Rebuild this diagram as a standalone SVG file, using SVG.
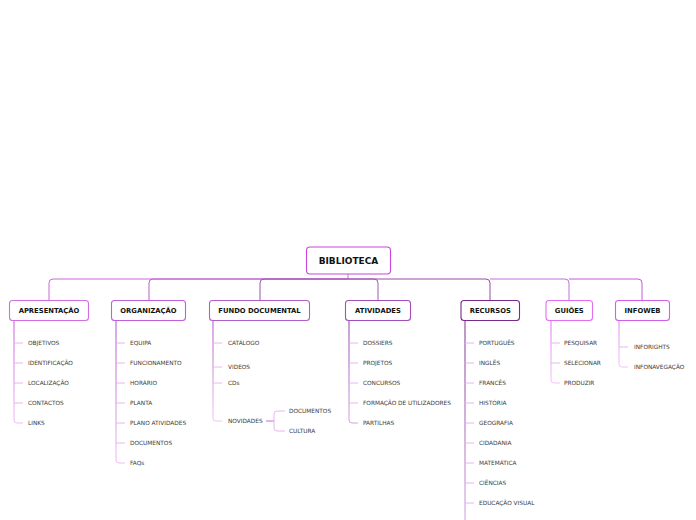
<svg xmlns="http://www.w3.org/2000/svg" width="696" height="520" viewBox="0 0 696 520">
<style>
.box{fill:#fff;stroke-width:1.1}
.lbl{font-family:"DejaVu Sans",sans-serif;font-weight:bold;font-size:6.8px;fill:#111;text-anchor:middle}
.root{font-size:9px}
.it{font-family:"DejaVu Sans",sans-serif;font-size:5.8px;fill:#3a3a3a}
.c{fill:none;stroke-width:1}
.t{fill:none;stroke-width:1;stroke:#e8b4f0}
</style>
<defs>
  <linearGradient id="gA" gradientUnits="userSpaceOnUse" x1="0" y1="320" x2="0" y2="423"><stop offset="0" stop-color="#c858d8"/><stop offset="1" stop-color="#eebcf4"/></linearGradient>
  <linearGradient id="gO" gradientUnits="userSpaceOnUse" x1="0" y1="320" x2="0" y2="463"><stop offset="0" stop-color="#b050c4"/><stop offset="1" stop-color="#eebcf4"/></linearGradient>
  <linearGradient id="gF" gradientUnits="userSpaceOnUse" x1="0" y1="320" x2="0" y2="421"><stop offset="0" stop-color="#b050c0"/><stop offset="1" stop-color="#f0c4f4"/></linearGradient>
  <linearGradient id="gT" gradientUnits="userSpaceOnUse" x1="0" y1="320" x2="0" y2="423"><stop offset="0" stop-color="#9040a4"/><stop offset="1" stop-color="#d8a0e4"/></linearGradient>
  <linearGradient id="gR" gradientUnits="userSpaceOnUse" x1="0" y1="320" x2="0" y2="520"><stop offset="0" stop-color="#7a2a8e"/><stop offset="1" stop-color="#d0a0dc"/></linearGradient>
  <linearGradient id="gG" gradientUnits="userSpaceOnUse" x1="0" y1="320" x2="0" y2="383"><stop offset="0" stop-color="#e070f0"/><stop offset="1" stop-color="#f2c4f8"/></linearGradient>
  <linearGradient id="gI" gradientUnits="userSpaceOnUse" x1="0" y1="320" x2="0" y2="367"><stop offset="0" stop-color="#e080f0"/><stop offset="1" stop-color="#f2c4f8"/></linearGradient>
</defs>
<rect width="696" height="520" fill="#fff"/>
<g id="connectors">
  <path class="c" stroke="#cc66dc" d="M348,274V279H53Q49,279 49,283V300"/>
  <path class="c" stroke="#b860c8" d="M348,279H153Q149,279 149,283V300"/>
  <path class="c" stroke="#a050b0" d="M348,279H264Q260,279 260,283V300"/>
  <path class="c" stroke="#a858b8" d="M348,279H374Q378,279 378,283V300"/>
  <path class="c" stroke="#9a4aaa" d="M348,279H486Q490,279 490,283V300"/>
  <path class="c" stroke="#c070d8" d="M490,279H565Q569,279 569,283V300"/>
  <path class="c" stroke="#c858d8" d="M569,279H638Q642,279 642,283V300"/>
  <!-- Apresentação -->
  <path class="c" stroke="url(#gA)" d="M14,320V420Q14,423 17,423H23"/>
  <path class="t" d="M14,343H23M14,363H23M14,383H23M14,403H23"/>
  <!-- Organização -->
  <path class="c" stroke="url(#gO)" d="M116,320V460Q116,463 119,463H125"/>
  <path class="t" d="M116,343H125M116,363H125M116,383H125M116,403H125M116,423H125M116,443H125"/>
  <!-- Fundo documental -->
  <path class="c" stroke="url(#gF)" d="M213,320V418Q213,421 216,421H222"/>
  <path class="t" d="M213,343H222M213,367H222M213,383H222"/>
  <path class="c" stroke="#c868d8" d="M266,421H274"/>
  <path class="t" stroke="#dc90ec" d="M285,411H277Q274,411 274,414V428Q274,431 277,431H285"/>
  <!-- Atividades -->
  <path class="c" stroke="url(#gT)" d="M349,320V420Q349,423 352,423H358"/>
  <path class="t" d="M349,343H358M349,363H358M349,383H358M349,403H358"/>
  <!-- Recursos -->
  <path class="c" stroke="url(#gR)" d="M465,320V520"/>
  <path class="t" d="M465,343H474M465,363H474M465,383H474M465,403H474M465,423H474M465,443H474M465,463H474M465,483H474M465,503H474"/>
  <!-- Guiões -->
  <path class="c" stroke="url(#gG)" d="M551,320V380Q551,383 554,383H560"/>
  <path class="t" d="M551,343H560M551,363H560"/>
  <!-- Infoweb -->
  <path class="c" stroke="url(#gI)" d="M619,320V364Q619,367 622,367H628"/>
  <path class="t" d="M619,347H628"/>
</g>
<g id="biblioteca">
  <rect class="box" x="306.5" y="247" width="84" height="27" rx="3.5" stroke="#cc44dd" stroke-width="1.3"/>
  <text class="lbl root" x="348.5" y="264.3">BIBLIOTECA</text>
</g>
<g id="apresentacao">
  <rect class="box" x="9.5" y="300.5" width="79" height="20" rx="3" stroke="#d070e0"/>
  <text class="lbl" x="49" y="313">APRESENTAÇÃO</text>
  <text class="it" x="28" y="345">OBJETIVOS</text>
  <text class="it" x="28" y="365">IDENTIFICAÇÃO</text>
  <text class="it" x="28" y="385">LOCALIZAÇÃO</text>
  <text class="it" x="28" y="405">CONTACTOS</text>
  <text class="it" x="28" y="425">LINKS</text>
</g>
<g id="organizacao">
  <rect class="box" x="111.5" y="300.5" width="74" height="20" rx="3" stroke="#c060d8"/>
  <text class="lbl" x="148.5" y="313">ORGANIZAÇÃO</text>
  <text class="it" x="130" y="345">EQUIPA</text>
  <text class="it" x="130" y="365">FUNCIONAMENTO</text>
  <text class="it" x="130" y="385">HORÁRIO</text>
  <text class="it" x="130" y="405">PLANTA</text>
  <text class="it" x="130" y="425">PLANO ATIVIDADES</text>
  <text class="it" x="130" y="445">DOCUMENTOS</text>
  <text class="it" x="130" y="465">FAQs</text>
</g>
<g id="fundo-documental">
  <rect class="box" x="209.5" y="300.5" width="100" height="20" rx="3" stroke="#b060c8"/>
  <text class="lbl" x="259.5" y="313">FUNDO DOCUMENTAL</text>
  <text class="it" x="228" y="345">CATÁLOGO</text>
  <text class="it" x="228" y="369">VIDEOS</text>
  <text class="it" x="228" y="385">CDs</text>
  <text class="it" x="228" y="423">NOVIDADES</text>
  <text class="it" x="289" y="413">DOCUMENTOS</text>
  <text class="it" x="289" y="433">CULTURA</text>
</g>
<g id="atividades">
  <rect class="box" x="345.5" y="300.5" width="65" height="20" rx="3" stroke="#a050b8"/>
  <text class="lbl" x="378" y="313">ATIVIDADES</text>
  <text class="it" x="363" y="345">DOSSIERS</text>
  <text class="it" x="363" y="365">PROJETOS</text>
  <text class="it" x="363" y="385">CONCURSOS</text>
  <text class="it" x="363" y="405">FORMAÇÃO DE UTILIZADORES</text>
  <text class="it" x="363" y="425">PARTILHAS</text>
</g>
<g id="recursos">
  <rect class="box" x="461" y="300.5" width="58.5" height="20" rx="3" stroke="#7a2a8a"/>
  <text class="lbl" x="490.3" y="313">RECURSOS</text>
  <text class="it" x="479" y="345">PORTUGUÊS</text>
  <text class="it" x="479" y="365">INGLÊS</text>
  <text class="it" x="479" y="385">FRANCÊS</text>
  <text class="it" x="479" y="405">HISTÓRIA</text>
  <text class="it" x="479" y="425">GEOGRAFIA</text>
  <text class="it" x="479" y="445">CIDADANIA</text>
  <text class="it" x="479" y="465">MATEMÁTICA</text>
  <text class="it" x="479" y="485">CIÊNCIAS</text>
  <text class="it" x="479" y="505">EDUCAÇÃO VISUAL</text>
</g>
<g id="guioes">
  <rect class="box" x="546" y="300.5" width="46.5" height="20" rx="3" stroke="#e070f0"/>
  <text class="lbl" x="569.3" y="313">GUIÕES</text>
  <text class="it" x="564" y="345">PESQUISAR</text>
  <text class="it" x="564" y="365">SELECIONAR</text>
  <text class="it" x="564" y="385">PRODUZIR</text>
</g>
<g id="infoweb">
  <rect class="box" x="615.5" y="300.5" width="54" height="20" rx="3" stroke="#d060e8"/>
  <text class="lbl" x="642.5" y="313">INFOWEB</text>
  <text class="it" x="634" y="349">INFORIGHTS</text>
  <text class="it" x="634" y="369">INFONAVEGAÇÃO</text>
</g>
</svg>
